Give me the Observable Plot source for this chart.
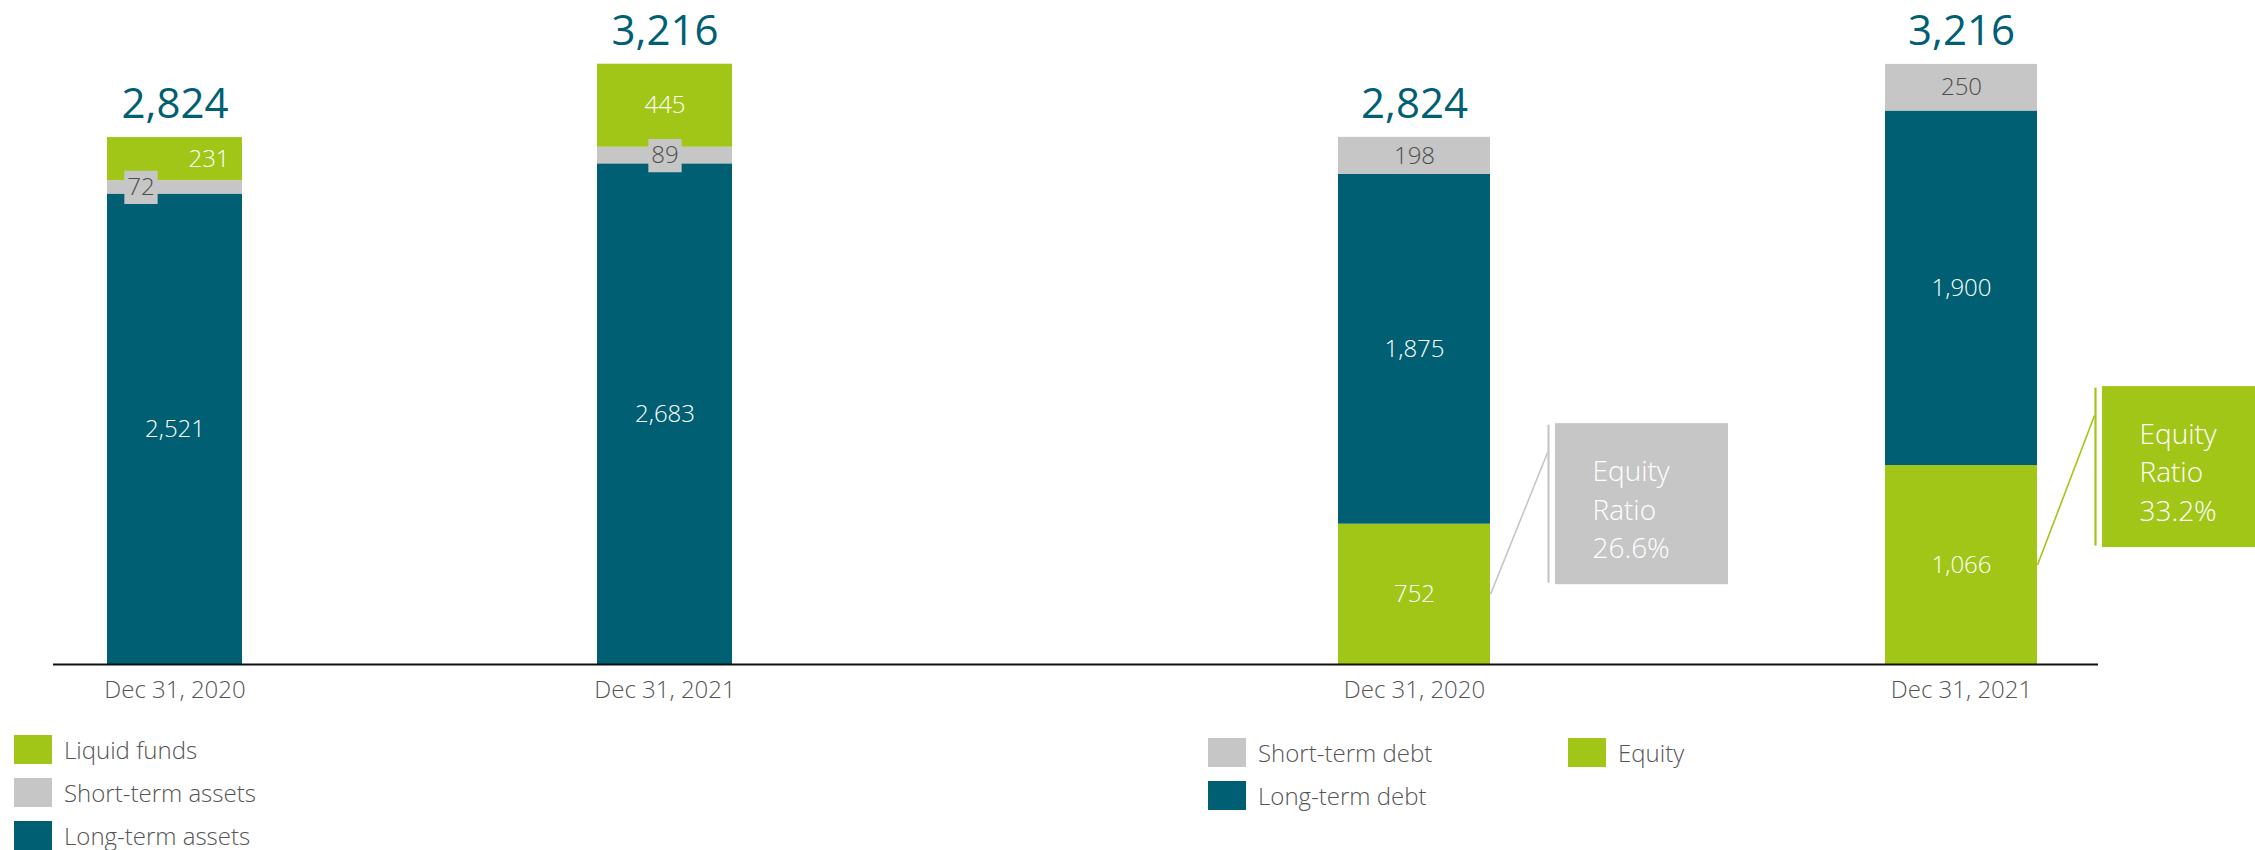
<!DOCTYPE html>
<html><head><meta charset="utf-8">
<script src="https://cdn.jsdelivr.net/npm/d3@7"></script>
<script src="https://cdn.jsdelivr.net/npm/@observablehq/plot@0.6"></script>
<style>
html,body{margin:0;padding:0;background:#fff;}
#wrap{position:relative;width:2255px;height:850px;overflow:hidden;font-family:"Open Sans",sans-serif;}
#left{position:absolute;left:0;top:0;}
#right{position:absolute;left:1100px;top:0;}
.leg{position:absolute;display:flex;align-items:center;color:#555;font-size:24px;font-weight:300;white-space:nowrap;}
.leg .sw{width:38px;height:29px;margin-right:12px;flex:none;}
</style></head><body>
<div id="wrap">
  <div id="left"></div>
  <div id="right"></div>
  <div id="legends"></div>
</div>
<script>
// ---------- data ----------
const dates = ["Dec 31, 2020", "Dec 31, 2021"];

const assetSeries = ["Long-term assets", "Short-term assets", "Liquid funds"]; // bottom -> top
const longTermAssets = [2521, 2683];
const shortTermAssets = [72, 89];
const liquidFunds = [231, 445];
const assetTotals = [2824, 3216];

const liabSeries = ["Equity", "Long-term debt", "Short-term debt"]; // bottom -> top
const equity = [752, 1066];
const longTermDebt = [1875, 1900];
const shortTermDebt = [198, 250];
const liabTotals = [2824, 3216];
const equityRatio = ["26.6%", "33.2%"];

// ---------- style ----------
const TEAL = "#005f72", GREEN = "#a2c617", GRAY = "#c6c6c6";
const TXT = "#555555";
const FONT = "'Open Sans', sans-serif";
const fmt = d3.format(",");

const H = 715, AXIS_Y = 664, YMAX = 3500, PXU = 0.1866; // px per unit
const MT = AXIS_Y - YMAX * PXU;
const MB = H - AXIS_Y;

function stackRows(seriesNames, arrays) {
  const rows = [];
  dates.forEach((date, i) => {
    let acc = 0;
    seriesNames.forEach((s, k) => {
      const v = arrays[k][i];
      rows.push({i, date, series: s, value: v, y1: acc, y2: acc + v});
      acc += v;
    });
  });
  return rows;
}

const assetRows = stackRows(assetSeries, [longTermAssets, shortTermAssets, liquidFunds]);
const liabRows = stackRows(liabSeries, [equity, longTermDebt, shortTermDebt]);

const labelFill = s => (s === "Short-term assets" || s === "Short-term debt") ? "#4d4d4d" : "#ffffff";
const mid = d => (d.y1 + d.y2) / 2;

function commonMarks(rows, totals, hw) {
  return [
    Plot.rectY(rows, {x1: d => d.i - hw, x2: d => d.i + hw, y1: "y1", y2: "y2", fill: "series"}),
    Plot.ruleY([0], {stroke: "#111", strokeWidth: 2}),
    Plot.text(dates, {x: (d, i) => i, y: () => 0, dy: 26, text: d => d, fontSize: 24, fontWeight: 300, fill: TXT, lineAnchor: "middle"}),
    Plot.text(totals, {x: (d, i) => i, y: d => d, dy: -33, text: d => fmt(d), fontSize: 42, fill: TEAL, lineAnchor: "middle"})
  ];
}

// ---------- left panel (assets) ----------
const slotL = 490, firstL = 121.5, frameL = 1047;
const hwL = 67.5 / slotL;
const small0 = d => d.i === 0 && d.series === "Short-term assets";
const liq0 = d => d.i === 0 && d.series === "Liquid funds";
const left = Plot.plot({
  width: 1100, height: H,
  marginTop: MT, marginBottom: MB, marginLeft: 53, marginRight: 0,
  x: {domain: [-firstL / slotL, (frameL - firstL) / slotL], axis: null},
  y: {domain: [0, YMAX], axis: null},
  color: {domain: assetSeries, range: [TEAL, GRAY, GREEN]},
  style: {fontFamily: FONT, overflow: "visible", background: "transparent"},
  marks: [
    ...commonMarks(assetRows, assetTotals, hwL),
    // label boxes for short-term values
    Plot.dot(assetRows, {filter: small0, x: "i", y: mid, dx: -34, symbol: "square", r: 18.8, fill: GRAY}),
    Plot.dot(assetRows, {filter: d => d.i === 1 && d.series === "Short-term assets", x: "i", y: mid, symbol: "square", r: 18.8, fill: GRAY}),
    Plot.text(assetRows, {filter: small0, x: "i", y: mid, dx: -34, text: d => fmt(d.value), fill: d => labelFill(d.series), fontSize: 24, fontWeight: 300, lineAnchor: "middle"}),
    Plot.text(assetRows, {filter: liq0, x: "i", y: mid, dx: 34, text: d => fmt(d.value), fill: d => labelFill(d.series), fontSize: 24, fontWeight: 300, lineAnchor: "middle"}),
    Plot.text(assetRows, {filter: d => !small0(d) && !liq0(d), x: "i", y: mid, text: d => fmt(d.value), fill: d => labelFill(d.series), fontSize: 24, fontWeight: 300, lineAnchor: "middle"})
  ]
});
document.getElementById("left").appendChild(left);

// ---------- right panel (liabilities & equity) ----------
const slotR = 547, firstR = 314, frameR = 998;
const hwR = 76 / slotR;
const callShift = [-20, 1.5]; // px shift of callout centre relative to equity top
const callColor = [GRAY, GREEN];
const callouts = dates.map((date, i) => {
  const e = equity[i];
  const edge = i + hwR;
  const c = e - callShift[i] / PXU; // box centre (value units)
  return {i, e, edge, c, ratio: equityRatio[i], color: callColor[i]};
});
const px = p => p / slotR; // px -> x units
const pv = p => p / PXU;   // px -> y units

const right = Plot.plot({
  width: 1155, height: H,
  marginTop: MT, marginBottom: MB, marginLeft: 0, marginRight: 157,
  x: {domain: [-firstR / slotR, (frameR - firstR) / slotR], axis: null},
  y: {domain: [0, YMAX], axis: null},
  color: {domain: liabSeries, range: [GREEN, TEAL, GRAY]},
  style: {fontFamily: FONT, overflow: "visible", background: "transparent"},
  marks: [
    ...commonMarks(liabRows, liabTotals, hwR),
    Plot.text(liabRows, {x: "i", y: mid, text: d => fmt(d.value), fill: d => labelFill(d.series), fontSize: 24, fontWeight: 300, lineAnchor: "middle"}),
    // callouts
    Plot.link(callouts, {x1: "edge", y1: d => d.e / 2, x2: d => d.edge + px(57), y2: d => d.c + pv(51.5), stroke: d => d.color, strokeWidth: 1.6}),
    Plot.ruleX(callouts, {x: d => d.edge + px(58), y1: d => d.c - pv(79), y2: d => d.c + pv(79), stroke: d => d.color, strokeWidth: 2.2}),
    Plot.rect(callouts, {x1: d => d.edge + px(65), x2: d => d.edge + px(238), y1: d => d.c - pv(80.5), y2: d => d.c + pv(80.5), fill: d => d.color}),
    Plot.text(callouts, {x: d => d.edge + px(102), y: d => d.c - pv(3), text: d => `Equity\nRatio\n${d.ratio}`, textAnchor: "start", lineAnchor: "middle", lineHeight: 1.375, fontSize: 28, fontWeight: 300, fill: "#ffffff"})
  ]
});
document.getElementById("right").appendChild(right);

// ---------- legends ----------
const legendItems = [
  {label: "Liquid funds", color: GREEN, x: 14, y: 749},
  {label: "Short-term assets", color: GRAY, x: 14, y: 792},
  {label: "Long-term assets", color: TEAL, x: 14, y: 835},
  {label: "Short-term debt", color: GRAY, x: 1208, y: 752},
  {label: "Long-term debt", color: TEAL, x: 1208, y: 795},
  {label: "Equity", color: GREEN, x: 1568, y: 752}
];
const legends = document.getElementById("legends");
legendItems.forEach(it => {
  const el = document.createElement("div");
  el.className = "leg";
  el.style.left = it.x + "px";
  el.style.top = (it.y - 17) + "px";
  el.style.height = "34px";
  el.innerHTML = `<span class="sw" style="background:${it.color}"></span><span>${it.label}</span>`;
  legends.appendChild(el);
});
</script>
</body></html>
